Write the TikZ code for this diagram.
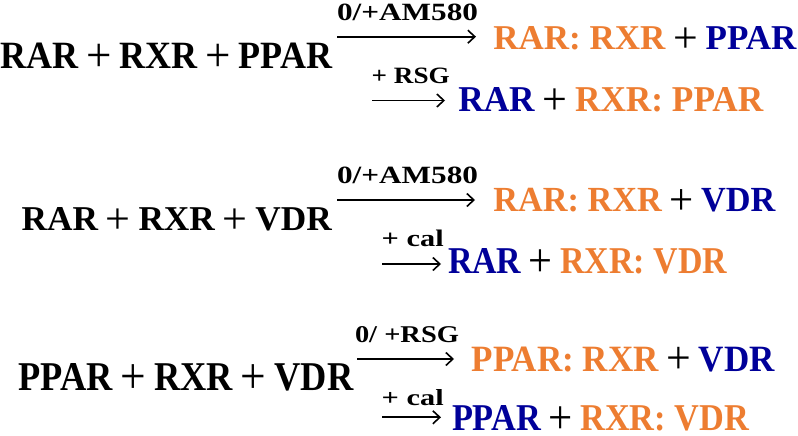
\documentclass[tikz,border=0pt]{standalone}
\usepackage{fontspec}
\setmainfont{Liberation Serif}
\usepackage{graphicx}
\usetikzlibrary{arrows.meta}
\definecolor{rorange}{HTML}{ED7D31}
\definecolor{rblue}{HTML}{000099}
\newcommand\fitx[3]{\resizebox{#1pt}{#2pt}{\bfseries #3}}
\newcommand\orx[1]{\textcolor{rorange}{#1}}
\newcommand\blx[1]{\textcolor{rblue}{#1}}
\newcommand\pl{\hspace{0.22em}\smash{\raisebox{-0.08em}{\scalebox{1.25}{\mdseries+}}}\hspace{0.22em}}
\tikzset{
  txt/.style={inner sep=0pt, outer sep=0pt, anchor=base west},
  rxarrow/.style={line width=1.8pt, -{Straight Barb[length=7pt,width=13pt,line width=1.6pt]}}
}
\begin{document}
\begin{tikzpicture}[x=1pt,y=-1pt]
\useasboundingbox (0,0) rectangle (798,436);
% Block 1
\node[txt] (r1) at (0,68.3) {\fitx{332}{25.5}{RAR\pl RXR\pl PPAR}};
\node[txt] (l1a) at (337,20.7) {\fitx{141}{16.5}{0/+AM580}};
\coordinate (a1as) at (337,36.7); \coordinate (a1ae) at (476,36.7);
\draw[rxarrow] (a1as) -- (a1ae);
\node[txt] (p1a) at (493.3,50) {\fitx{303}{23}{\orx{RAR: RXR}\pl\blx{PPAR}}};
\node[txt] (l1b) at (371.7,83.3) {\fitx{78}{15.5}{+ RSG}};
\coordinate (a1bs) at (372,100.5); \coordinate (a1be) at (445,100.5);
\draw[rxarrow] (a1bs) -- (a1be);
\node[txt] (p1b) at (458.3,111.7) {\fitx{305}{24}{\blx{RAR}\pl\orx{RXR: PPAR}}};
% Block 2
\node[txt] (r2) at (21.7,230.7) {\fitx{310}{23}{RAR\pl RXR\pl VDR}};
\node[txt] (l2a) at (337,183.3) {\fitx{141}{16.5}{0/+AM580}};
\coordinate (a2as) at (337,200); \coordinate (a2ae) at (475,200);
\draw[rxarrow] (a2as) -- (a2ae);
\node[txt] (p2a) at (493.3,211.7) {\fitx{282}{23.3}{\orx{RAR: RXR}\pl\blx{VDR}}};
\node[txt] (l2b) at (381.7,246) {\fitx{62}{16.5}{+ cal}};
\coordinate (a2bs) at (382,264); \coordinate (a2be) at (441,264);
\draw[rxarrow] (a2bs) -- (a2be);
\node[txt] (p2b) at (448,273.3) {\fitx{279}{25}{\blx{RAR}\pl\orx{RXR: VDR}}};
% Block 3
\node[txt] (r3) at (18.3,390) {\fitx{335}{27}{PPAR\pl RXR\pl VDR}};
\node[txt] (l3a) at (355,342.7) {\fitx{104}{16}{0/ +RSG}};
\coordinate (a3as) at (357,359); \coordinate (a3ae) at (454,359);
\draw[rxarrow] (a3as) -- (a3ae);
\node[txt] (p3a) at (471.7,371) {\fitx{303}{24.5}{\orx{PPAR: RXR}\pl\blx{VDR}}};
\node[txt] (l3b) at (381.7,405) {\fitx{62}{16}{+ cal}};
\coordinate (a3bs) at (382,417.3); \coordinate (a3be) at (441,417.3);
\draw[rxarrow] (a3bs) -- (a3be);
\node[txt] (p3b) at (452,430.5) {\fitx{297}{25}{\blx{PPAR}\pl\orx{RXR: VDR}}};
\end{tikzpicture}
\end{document}
